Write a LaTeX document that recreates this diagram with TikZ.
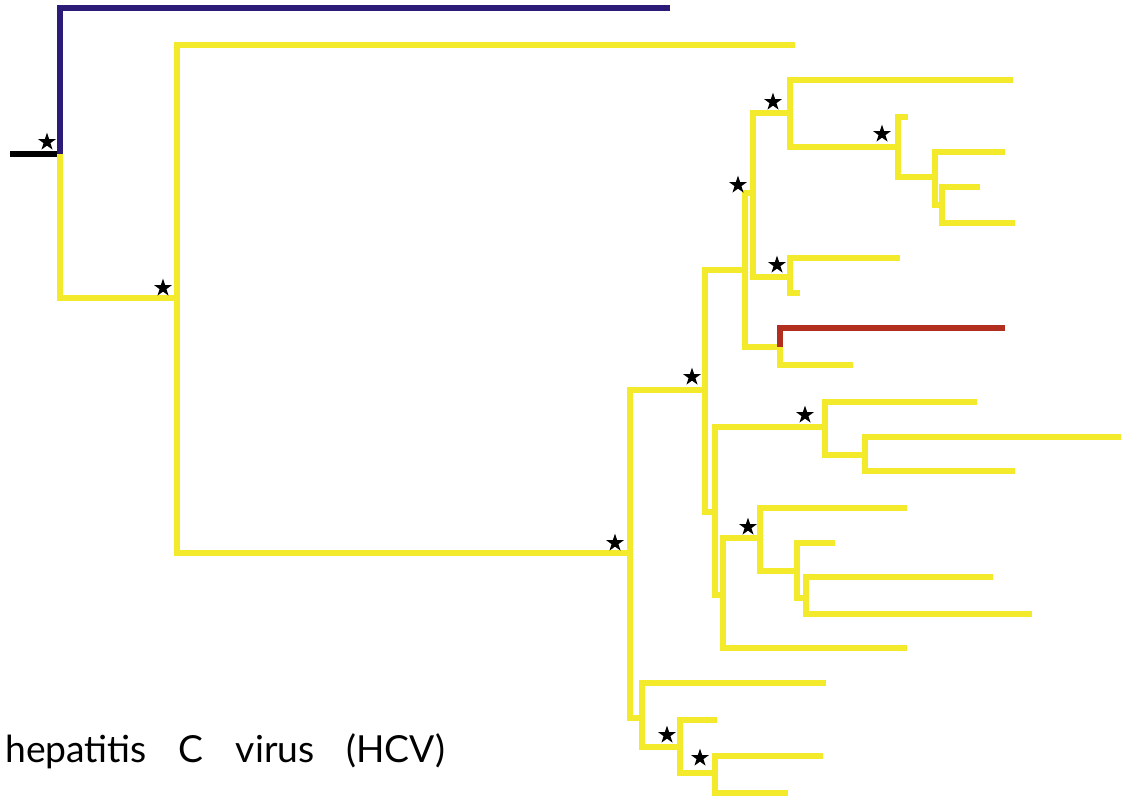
\documentclass[tikz,border=0pt]{standalone}
\usepackage{fontspec}
\setmainfont{Lato}
\usetikzlibrary{shapes.geometric}
\definecolor{hcvyellow}{RGB}{242,234,42}
\definecolor{outpurple}{RGB}{45,27,120}
\definecolor{recred}{RGB}{178,46,31}

\begin{document}
\begin{tikzpicture}[x=0.025cm, y=-0.025cm,
    branch/.style={draw=hcvyellow, line width=3.8pt},
    clademark/.style={star, star points=5, star point ratio=2.6, fill=black, inner sep=0pt, minimum size=0.47cm}]
    \useasboundingbox (0,0) rectangle (1122,799);

    % internal nodes of the tree
    \coordinate (stem) at (10,154);
    \coordinate (root) at (60,154);
    \coordinate (n1) at (177,298);
    \coordinate (n2) at (630,553);
    \coordinate (n3) at (705,390);
    \coordinate (n4) at (642,718);
    \coordinate (n5) at (680,747);
    \coordinate (n6) at (715,773);
    \coordinate (n7) at (745,270);
    \coordinate (n8) at (715,512);
    \coordinate (n9) at (753,193);
    \coordinate (n10) at (780,347);
    \coordinate (n11) at (790,113);
    \coordinate (n12) at (790,277);
    \coordinate (n13) at (898,147);
    \coordinate (n14) at (935,177);
    \coordinate (n15) at (942,205);
    \coordinate (n16) at (825,427);
    \coordinate (n17) at (723,595);
    \coordinate (n18) at (865,455);
    \coordinate (n19) at (760,538);
    \coordinate (n20) at (797,571);
    \coordinate (n21) at (806,598);

    % leaves
    \coordinate (lout) at (670,8);
    \coordinate (lred) at (1005,328);
    \foreach \l/\x/\y in {l1/795/45, l2/1013/80, l3/908/117, l4/1005/152, l5/980/187,
        l6/1015/223, l7/900/258, l8/800/293, l9/853/365, l10/977/402, l11/1121/437,
        l12/1015/471, l13/907/508, l14/835/543, l15/993/577, l16/1032/614, l17/907/648,
        l18/826/683, l19/717/720, l20/823/756, l21/788/793}
        \coordinate (\l) at (\x,\y);

    % branches
    \draw [black, line width=4.6pt] (stem) -- (root);
    \draw [draw=outpurple, line width=3.9pt] (root) |- (lout);
    \foreach \p/\c in {root/n1, n1/l1, n1/n2, n2/n3, n2/n4, n4/l18, n4/n5, n5/l19, n5/n6,
        n6/l20, n6/l21, n3/n7, n3/n8, n7/n9, n7/n10, n9/n11, n9/n12, n11/l2, n11/n13,
        n13/l3, n13/n14, n14/l4, n14/n15, n15/l5, n15/l6, n12/l7, n12/l8, n10/l9,
        n8/n16, n8/n17, n16/l10, n16/n18, n18/l11, n18/l12, n17/n19, n17/l17,
        n19/l13, n19/n20, n20/l14, n20/n21, n21/l15, n21/l16}
        \draw [branch] (\p) |- (\c);
    \draw [draw=recred, line width=3.8pt] (n10) |- (lred);

    % supported clades
    \foreach \n/\dx/\dy in {root/-13/-12, n1/-14/-10, n2/-15/-10, n3/-13/-13, n9/-15/-8,
        n11/-17/-11, n12/-13/-12, n13/-16/-13, n16/-20/-12, n19/-12/-11, n5/-13/-12, n6/-15/-15}
        \node [clademark] at ([shift={(\dx,\dy)}]\n) {};

    \node [anchor=base west, inner sep=0pt, font=\fontsize{26.5}{30}\selectfont] (virus) at (5,762)
        {\spaceskip=0.8cm\relax hepatitis C virus (HCV)};
\end{tikzpicture}
\end{document}
